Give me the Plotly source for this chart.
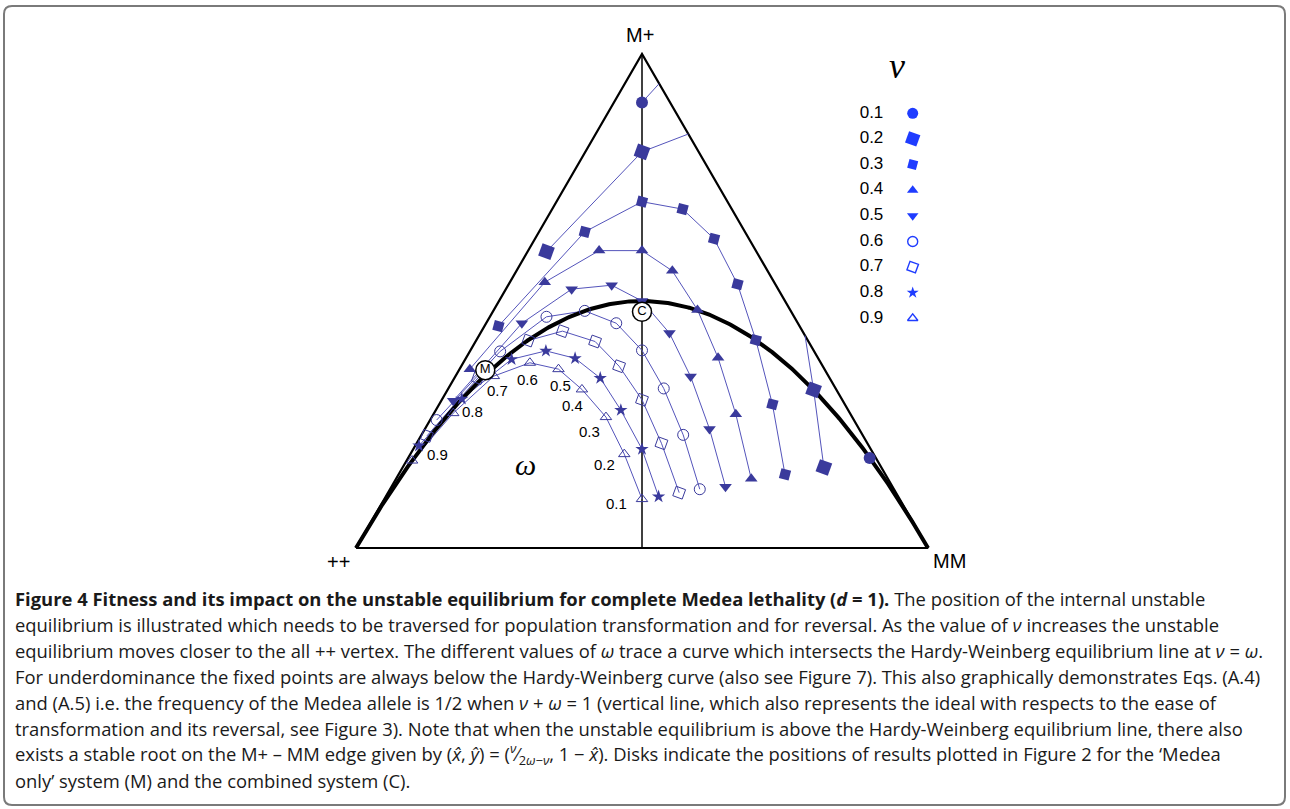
import plotly.graph_objects as go

# ---------------- data ----------------
NU_VALUES = [0.1, 0.2, 0.3, 0.4, 0.5, 0.6, 0.7, 0.8, 0.9]
NU_LABELS = ["0.1", "0.2", "0.3", "0.4", "0.5", "0.6", "0.7", "0.8", "0.9"]
OMEGA_VALUES = [0.9, 0.8, 0.7, 0.6, 0.5, 0.4, 0.3, 0.2, 0.1]
OMEGA_LABELS = ["0.9", "0.8", "0.7", "0.6", "0.5", "0.4", "0.3", "0.2", "0.1"]

# unstable equilibrium: M allele frequency (x) and M+ heterozygote frequency (h),
# listed for omega = 0.9 ... 0.1 ; None = outside the simplex
NU01_X = [0.500, None, None, None, None, None, None, None, 0.898]
NU01_H = [0.902, None, None, None, None, None, None, None, 0.182]
NU02_X = [0.333, 0.500, None, None, None, None, None, 0.800, 0.818]
NU02_H = [0.600, 0.802, None, None, None, None, None, 0.320, 0.163]
NU03_X = [0.249, 0.400, 0.500, 0.571, 0.626, 0.667, 0.699, 0.728, 0.750]
NU03_H = [0.449, 0.640, 0.701, 0.686, 0.626, 0.534, 0.421, 0.291, 0.149]
NU04_X = [0.199, 0.330, 0.425, 0.500, 0.553, 0.597, 0.633, 0.664, 0.691]
NU04_H = [0.362, 0.538, 0.602, 0.602, 0.561, 0.482, 0.385, 0.271, 0.140]
NU05_X = [0.170, 0.290, 0.377, 0.447, 0.500, 0.548, 0.585, 0.618, 0.646]
NU05_H = [0.298, 0.455, 0.524, 0.532, 0.500, 0.435, 0.347, 0.241, 0.124]
NU06_X = [0.141, 0.252, 0.333, 0.400, 0.455, 0.500, 0.538, 0.572, 0.601]
NU06_H = [0.259, 0.398, 0.468, 0.480, 0.455, 0.400, 0.323, 0.229, 0.119]
NU07_X = [0.124, 0.213, 0.301, 0.361, 0.418, 0.460, 0.500, 0.534, 0.565]
NU07_H = [0.227, 0.344, 0.420, 0.439, 0.418, 0.368, 0.300, 0.212, 0.112]
NU08_X = [0.110, 0.185, 0.272, 0.332, 0.383, 0.427, 0.463, 0.500, 0.529]
NU08_H = [0.207, 0.302, 0.382, 0.399, 0.384, 0.344, 0.279, 0.200, 0.104]
NU09_X = [0.098, 0.170, 0.241, 0.304, 0.354, 0.395, 0.437, 0.469, 0.500]
NU09_H = [0.177, 0.273, 0.348, 0.375, 0.362, 0.321, 0.265, 0.190, 0.099]

# points where a curve leaves the triangle: (after omega index, x, h)
NU01_EDGE = [(0, 0.530, 0.940)]
NU02_EDGE = [(1, 0.581, 0.838), (6, 0.785, 0.430)]

M_POINT_X, M_POINT_H = [0.226], [0.360]   # 'Medea only' system
C_POINT_X, C_POINT_H = [0.500], [0.478]   # combined system

VERTEX_LABELS = ["++", "MM", "M+"]

CAPTION_LINES = [
    "<b>Figure 4 Fitness and its impact on the unstable equilibrium for complete Medea lethality (<i>d</i> = 1).</b> The position of the internal unstable",
    "equilibrium is illustrated which needs to be traversed for population transformation and for reversal. As the value of <i>ν</i> increases the unstable",
    "equilibrium moves closer to the all ++ vertex. The different values of <i>ω</i> trace a curve which intersects the Hardy-Weinberg equilibrium line at <i>ν</i> = <i>ω</i>.",
    "For underdominance the fixed points are always below the Hardy-Weinberg curve (also see Figure 7). This also graphically demonstrates Eqs. (A.4)",
    "and (A.5) i.e. the frequency of the Medea allele is 1/2 when <i>ν</i> + <i>ω</i> = 1 (vertical line, which also represents the ideal with respects to the ease of",
    "transformation and its reversal, see Figure 3). Note that when the unstable equilibrium is above the Hardy-Weinberg equilibrium line, there also",
    "exists a stable root on the M+ – MM edge given by (<i>x̂</i>, <i>ŷ</i>) = (<sup><i>ν</i></sup>⁄<sub>2<i>ω</i>−<i>ν</i></sub>, 1 − <i>x̂</i>). Disks indicate the positions of results plotted in Figure 2 for the ‘Medea",
    "only’ system (M) and the combined system (C).",
]

# ---------------- styling ----------------
W, H = 1290, 809
PX0, PX1, PY0, PHT = 356.0, 928.0, 548.0, 494.0   # triangle placement in pixels


def fx(px):
    return px / W


def fy(py):
    return 1 - py / H


LINE_COL = "#5454bb"
MARK_COL = "#3a3a9c"
LEG_COL = "#1f3cff"

STYLES = [
    dict(symbol="circle", size=12, angle=0),
    dict(symbol="square", size=13, angle=20),
    dict(symbol="square", size=10, angle=15),
    dict(symbol="triangle-up", size=11, angle=0),
    dict(symbol="triangle-down", size=11, angle=0),
    dict(symbol="circle-open", size=11, angle=0),
    dict(symbol="square-open", size=10, angle=20),
    dict(symbol="star", size=10, angle=0),
    dict(symbol="triangle-up-open", size=10, angle=0),
]

SERIES = [
    (NU01_X, NU01_H, NU01_EDGE), (NU02_X, NU02_H, NU02_EDGE),
    (NU03_X, NU03_H, []), (NU04_X, NU04_H, []), (NU05_X, NU05_H, []),
    (NU06_X, NU06_H, []), (NU07_X, NU07_H, []), (NU08_X, NU08_H, []),
    (NU09_X, NU09_H, []),
]


def line_path(xs, hs, edges):
    ex = {i: (x, h) for i, x, h in edges}
    ox, oh = [], []
    for i, (x, h) in enumerate(zip(xs, hs)):
        ox.append(x)
        oh.append(h)
        if i in ex:
            ox.append(ex[i][0])
            oh.append(ex[i][1])
    return ox, oh


fig = go.Figure()

# triangle
fig.add_trace(go.Scatter(x=[0, 1, 0.5, 0], y=[0, 0, 1, 0], mode="lines",
                         line=dict(color="black", width=2.2), hoverinfo="skip"))
# vertical line nu + omega = 1
fig.add_trace(go.Scatter(x=[0.5, 0.5], y=[0, 1], mode="lines",
                         line=dict(color="black", width=1.5), hoverinfo="skip"))

# nu curves (lines)
for (xs, hs, edges) in SERIES:
    lx, lh = line_path(xs, hs, edges)
    fig.add_trace(go.Scatter(x=lx, y=lh, mode="lines", connectgaps=False,
                             line=dict(color=LINE_COL, width=1), hoverinfo="skip"))

# Hardy-Weinberg curve
hw_x = [i / 400 for i in range(401)]
hw_h = [2 * p * (1 - p) for p in hw_x]
fig.add_trace(go.Scatter(x=hw_x, y=hw_h, mode="lines",
                         line=dict(color="black", width=4), hoverinfo="skip"))

# markers
for (xs, hs, _), st in zip(SERIES, STYLES):
    is_open = "open" in st["symbol"]
    fig.add_trace(go.Scatter(
        x=xs, y=hs, mode="markers",
        marker=dict(symbol=st["symbol"], size=st["size"], angle=st["angle"],
                    color=MARK_COL,
                    line=dict(color=MARK_COL, width=1 if is_open else 0)),
        hoverinfo="skip"))

# M and C disks
for px_, ph_, lab in [(M_POINT_X, M_POINT_H, "M"), (C_POINT_X, C_POINT_H, "C")]:
    fig.add_trace(go.Scatter(
        x=px_, y=ph_, mode="markers+text", text=[lab], textposition="middle center",
        textfont=dict(family="Liberation Sans", size=13, color="black"),
        marker=dict(symbol="circle", size=19, color="white",
                    line=dict(color="black", width=1.5)),
        hoverinfo="skip"))

# legend (markers on a nu axis)
for nu, st in zip(NU_VALUES, STYLES):
    is_open = "open" in st["symbol"]
    fig.add_trace(go.Scatter(
        x=[(912.7 - PX0) / (PX1 - PX0)], y=[nu], yaxis="y2", mode="markers",
        marker=dict(symbol=st["symbol"], size=st["size"] - 1, angle=st["angle"],
                    color=LEG_COL,
                    line=dict(color=LEG_COL, width=1.4 if is_open else 0)),
        hoverinfo="skip"))
fig.add_trace(go.Scatter(
    x=[(871.5 - PX0) / (PX1 - PX0)] * len(NU_VALUES), y=NU_VALUES, yaxis="y2",
    mode="text", text=NU_LABELS, textposition="middle center",
    textfont=dict(family="Liberation Sans", size=17, color="black"),
    hoverinfo="skip"))

annotations = []
# omega labels next to the nu = 0.9 curve
OM_SHIFTS = [(25, 6), (19, 2), (4, -14), (-2, -17), (2, -16), (-9, -16), (-16, -14), (-20, -10), (-26, -4)]
for lab, x, h, (dx, dy) in zip(OMEGA_LABELS, NU09_X, NU09_H, OM_SHIFTS):
    annotations.append(dict(x=x, y=h, xref="x", yref="y", text=lab, showarrow=False,
                            xshift=dx, yshift=dy, xanchor="center", yanchor="middle",
                            font=dict(family="Liberation Sans", size=15, color="black")))

# axis-like symbols
annotations.append(dict(x=fx(525), y=fy(464), xref="paper", yref="paper", text="<i>ω</i>",
                        xanchor="center", yanchor="middle",
                        showarrow=False, font=dict(family="Liberation Serif", size=30, color="black")))
annotations.append(dict(x=fx(897), y=fy(66), xref="paper", yref="paper", text="<i>ν</i>",
                        xanchor="center", yanchor="middle",
                        showarrow=False, font=dict(family="Liberation Serif", size=36, color="black")))

# vertex labels
for lab, (px, py) in zip(VERTEX_LABELS, [(338, 562), (949, 561), (640, 35)]):
    annotations.append(dict(x=fx(px), y=fy(py), xref="paper", yref="paper", text=lab,
                            xanchor="center", yanchor="middle", showarrow=False,
                            font=dict(family="Liberation Sans", size=20, color="black")))

# caption
for k, line in enumerate(CAPTION_LINES):
    annotations.append(dict(x=fx(13), y=fy(598 + 26 * k), xref="paper", yref="paper",
                            xanchor="left", yanchor="middle", text=line, showarrow=False,
                            font=dict(family="Open Sans", size=18.4, color="#1a1a1a")))

# rounded frame
x0, y0, x1, y1, r = 4, 6, 1285, 805, 8
frame = (f"M {fx(x0 + r)} {fy(y0)} L {fx(x1 - r)} {fy(y0)} Q {fx(x1)} {fy(y0)} {fx(x1)} {fy(y0 + r)} "
         f"L {fx(x1)} {fy(y1 - r)} Q {fx(x1)} {fy(y1)} {fx(x1 - r)} {fy(y1)} "
         f"L {fx(x0 + r)} {fy(y1)} Q {fx(x0)} {fy(y1)} {fx(x0)} {fy(y1 - r)} "
         f"L {fx(x0)} {fy(y0 + r)} Q {fx(x0)} {fy(y0)} {fx(x0 + r)} {fy(y0)} Z")

fig.update_layout(
    width=W, height=H, margin=dict(l=0, r=0, t=0, b=0),
    paper_bgcolor="white", plot_bgcolor="white", showlegend=False,
    xaxis=dict(range=[-PX0 / (PX1 - PX0), (W - PX0) / (PX1 - PX0)], visible=False,
               domain=[0, 1], fixedrange=True),
    yaxis=dict(range=[-(H - PY0) / PHT, PY0 / PHT], visible=False, domain=[0, 1],
               fixedrange=True),
    yaxis2=dict(range=[0.1 + (H - 113.3) / 256.25, 0.1 - 113.3 / 256.25], overlaying="y",
                visible=False, fixedrange=True),
    annotations=annotations,
    shapes=[dict(type="path", path=frame, xref="paper", yref="paper",
                 line=dict(color="#7a7a7a", width=2))],
)

fig.write_html("out.html", config={"displayModeBar": False},
               post_script="document.body.style.margin='0';document.body.style.overflow='hidden';")
